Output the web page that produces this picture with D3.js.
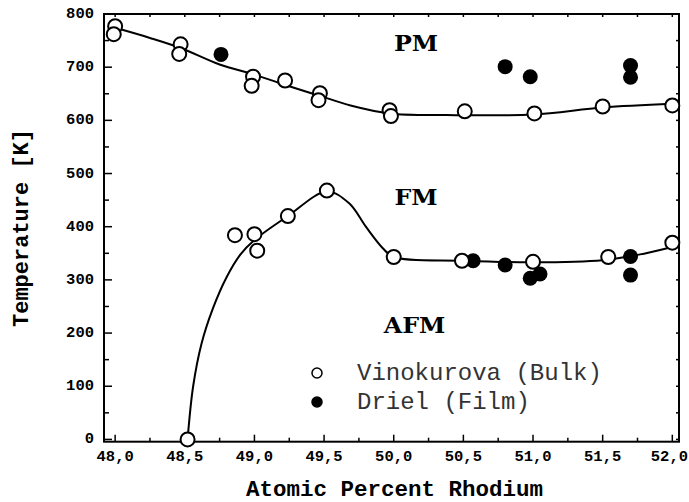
<!DOCTYPE html>
<html><head><meta charset="utf-8">
<script src="https://cdn.jsdelivr.net/npm/d3@7"></script>
<style>body{margin:0;background:#fff}svg{display:block}</style>
</head><body><div id="chart"></div>
<script>
// Vinokurova (Bulk) - open circles
const bulkX = [48.0, 47.99, 48.47, 48.46, 48.99, 48.98, 49.22, 49.47, 49.46, 49.97, 49.98, 50.51, 51.01, 51.5, 52.0,
               49.52, 49.24, 49.0, 48.86, 49.02, 48.52, 50.0, 50.49, 51.0, 51.54, 52.0];
const bulkY = [777, 762, 743, 725, 682, 665, 675, 651, 638, 619, 608, 617, 613, 626, 628,
               468, 420, 386, 384, 355, 0, 343, 336, 334, 343, 370];
// Driel (Film) - filled circles
const filmX = [48.76, 50.8, 50.98, 51.7, 51.7, 50.57, 50.8, 50.98, 51.05, 51.7, 51.7];
const filmY = [724, 701, 682, 703, 681, 336, 328, 303, 311, 344, 309];
// Guide curves
const pmCurveX = [48.0, 48.25, 48.47, 48.75, 49.0, 49.25, 49.47, 49.69, 49.97, 50.38, 51.0, 51.5, 52.0];
const pmCurveY = [774, 755, 736, 705, 686, 664, 646, 628, 613, 610, 611, 624, 631];
const fmCurveX = [48.52, 48.56, 48.62, 48.7, 48.8, 48.9, 49.0, 49.24, 49.52, 49.68, 49.8, 49.92, 50.0, 50.5, 51.0, 51.5, 51.75, 52.0];
const fmCurveY = [0, 100, 180, 245, 305, 348, 375, 420, 466, 444, 400, 360, 343, 336, 333, 337, 347, 362];
const xTicks = [48.0, 48.5, 49.0, 49.5, 50.0, 50.5, 51.0, 51.5, 52.0];
const xTickLabels = ["48,0", "48,5", "49,0", "49,5", "50,0", "50,5", "51,0", "51,5", "52,0"];
const yTicks = [0, 100, 200, 300, 400, 500, 600, 700, 800];
const yTickLabels = ["0", "100", "200", "300", "400", "500", "600", "700", "800"];
const legendLabels = ["Vinokurova (Bulk)", "Driel (Film)"];
const phaseLabels = [["PM", 50.16, 745], ["FM", 50.16, 456], ["AFM", 50.15, 215]];

const W = 689, H = 502;
const L = 104, R = 679, T = 14, B = 441.7;
const svg = d3.select("#chart").append("svg").attr("width", W).attr("height", H);
const x = d3.scaleLinear().domain([47.92, 52.048]).range([L, R]);
const y = d3.scaleLinear().domain([-4.3, 800]).range([B, T]);
const mono = "'Liberation Mono', 'DejaVu Sans Mono', monospace";

// frame
svg.append("rect").attr("x", L).attr("y", T).attr("width", R - L).attr("height", B - T)
  .attr("fill", "none").attr("stroke", "#000").attr("stroke-width", 2);

// ticks
const g = svg.append("g").attr("stroke", "#000").attr("stroke-width", 1.5);
d3.range(48, 52.001, 0.25).forEach(v => {
  const major = Math.abs(v * 2 - Math.round(v * 2)) < 1e-6;
  g.append("line").attr("x1", x(v)).attr("x2", x(v)).attr("y1", B).attr("y2", B - (major ? 7 : 4));
  g.append("line").attr("x1", x(v)).attr("x2", x(v)).attr("y1", T).attr("y2", T + 3);
});
d3.range(0, 801, 50).forEach(v => {
  const major = v % 100 === 0;
  g.append("line").attr("x1", L).attr("x2", L + (major ? 8 : 5)).attr("y1", y(v)).attr("y2", y(v));
  g.append("line").attr("x1", R).attr("x2", R - 3).attr("y1", y(v)).attr("y2", y(v));
});

// tick labels
svg.append("g").selectAll("text").data(xTicks).join("text")
  .attr("x", (d, i) => i === xTicks.length - 1 ? W - 1 : x(d))
  .attr("y", B + 15)
  .attr("text-anchor", (d, i) => i === xTicks.length - 1 ? "end" : "middle")
  .attr("dominant-baseline", "central")
  .attr("font-family", mono).attr("font-weight", "bold").attr("font-size", 15.5)
  .text((d, i) => xTickLabels[i]);
svg.append("g").selectAll("text").data(yTicks).join("text")
  .attr("x", L - 10).attr("y", d => y(d)).attr("text-anchor", "end")
  .attr("dominant-baseline", "central")
  .attr("font-family", mono).attr("font-weight", "bold").attr("font-size", 15.5)
  .text((d, i) => yTickLabels[i]);

// axis titles
svg.append("text").attr("x", (L + R) / 2 + 3).attr("y", 496).attr("text-anchor", "middle")
  .attr("font-family", mono).attr("font-weight", "bold").attr("font-size", 22.5)
  .text("Atomic Percent Rhodium");
svg.append("text").attr("transform", "translate(22,228) rotate(-90)").attr("text-anchor", "middle")
  .attr("dominant-baseline", "central")
  .attr("font-family", mono).attr("font-weight", "bold").attr("font-size", 22)
  .text("Temperature [K]");

// curves
const line = d3.line().x(d => x(d[0])).y(d => y(d[1])).curve(d3.curveCatmullRom.alpha(0.5));
svg.append("path").datum(pmCurveX.map((v, i) => [v, pmCurveY[i]]))
  .attr("d", line).attr("fill", "none").attr("stroke", "#000").attr("stroke-width", 2);
svg.append("path").datum(fmCurveX.map((v, i) => [v, fmCurveY[i]]))
  .attr("d", line).attr("fill", "none").attr("stroke", "#000").attr("stroke-width", 2);

// points
svg.append("g").selectAll("circle").data(filmX).join("circle")
  .attr("cx", d => x(d)).attr("cy", (d, i) => y(filmY[i])).attr("r", 7.5).attr("fill", "#000");
svg.append("g").selectAll("circle").data(bulkX).join("circle")
  .attr("cx", d => x(d)).attr("cy", (d, i) => y(bulkY[i])).attr("r", 7)
  .attr("fill", "#fff").attr("stroke", "#000").attr("stroke-width", 2);

// phase labels
svg.append("g").selectAll("text").data(phaseLabels).join("text")
  .attr("x", d => x(d[1])).attr("y", d => y(d[2])).attr("text-anchor", "middle")
  .attr("dominant-baseline", "central")
  .attr("font-family", "'DejaVu Serif', serif").attr("font-weight", "bold").attr("font-size", 22)
  .attr("transform", d => `translate(${x(d[1])},0) scale(1.08,1) translate(${-x(d[1])},0)`)
  .text(d => d[0]);

// legend
const lg = svg.append("g");
[0, 1].forEach(i => {
  const cy = 373 + i * 29;
  lg.append("circle").attr("cx", 317).attr("cy", cy).attr("r", 5)
    .attr("fill", i ? "#000" : "#fff").attr("stroke", "#000").attr("stroke-width", 1.5);
  lg.append("text").attr("x", 357).attr("y", cy).attr("dominant-baseline", "central")
    .attr("font-family", mono).attr("font-size", 24).attr("fill", "#333").text(legendLabels[i]);
});
</script></body></html>
